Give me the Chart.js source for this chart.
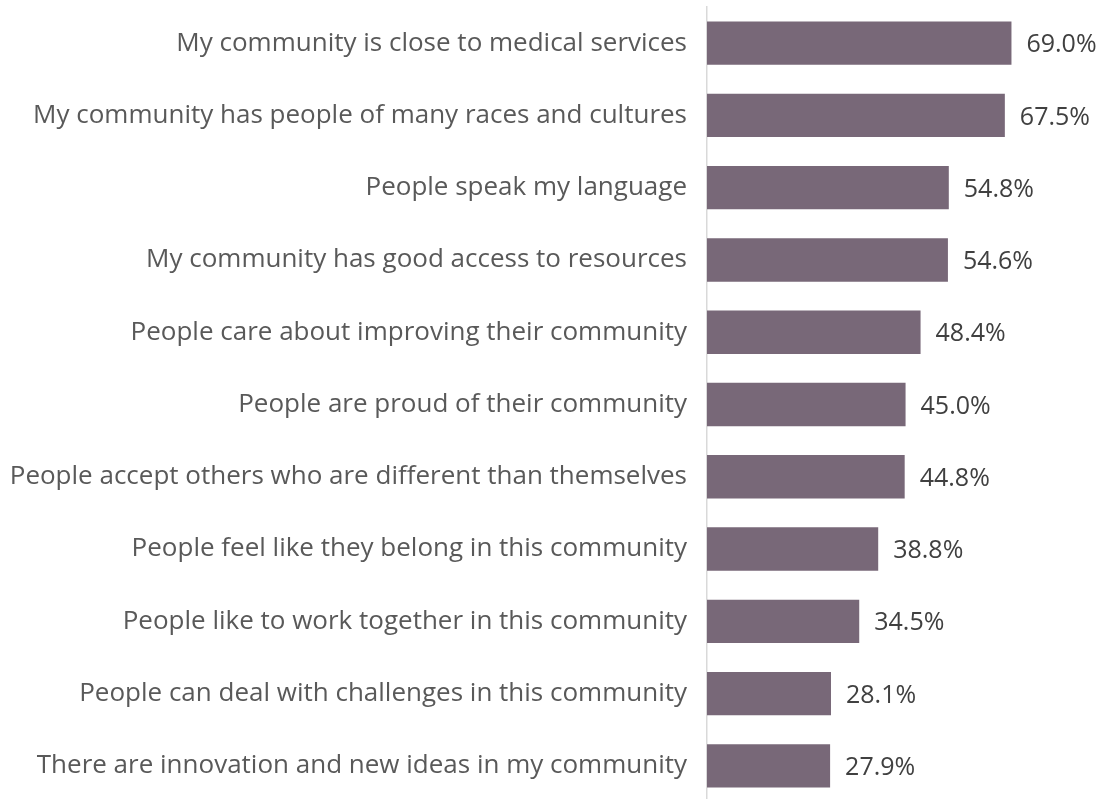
<!DOCTYPE html>
<html><head><meta charset="utf-8">
<script src="https://cdn.jsdelivr.net/npm/chart.js@4/dist/chart.umd.min.js"></script>
<style>html,body{margin:0;padding:0;overflow:hidden;background:#fff}#wrap{width:1104px;height:802px;position:relative}</style>
</head><body><div id="wrap"><canvas id="c"></canvas></div>
<script>
const categories = [
  "My community is close to medical services",
  "My community has people of many races and cultures",
  "People speak my language",
  "My community has good access to resources",
  "People care about improving their community",
  "People are proud of their community",
  "People accept others who are different than themselves",
  "People feel like they belong in this community",
  "People like to work together in this community",
  "People can deal with challenges in this community",
  "There are innovation and new ideas in my community"
];
const values = [69.0, 67.5, 54.8, 54.6, 48.4, 45.0, 44.8, 38.8, 34.5, 28.1, 27.9];

const labelPlugin = {
  id: 'vals',
  afterDatasetsDraw(chart) {
    const ctx = chart.ctx;
    const meta = chart.getDatasetMeta(0);
    ctx.save();
    ctx.font = '25px "Open Sans", sans-serif';
    ctx.fillStyle = '#404040';
    ctx.textAlign = 'left';
    ctx.textBaseline = 'middle';
    meta.data.forEach((bar, i) => {
      ctx.fillText(values[i].toFixed(1) + '%', bar.x + 15, bar.y + 2);
    });
    ctx.restore();
  }
};

new Chart(document.getElementById('c'), {
  type: 'bar',
  data: {
    labels: categories,
    datasets: [{
      data: values,
      backgroundColor: '#786878',
      borderWidth: 0,
      categoryPercentage: 0.6,
      barPercentage: 1.0
    }]
  },
  options: {
    indexAxis: 'y',
    responsive: true,
    maintainAspectRatio: false,
    animation: false,
    layout: { padding: { top: 7, right: 44, bottom: 0, left: 0 } },
    plugins: { legend: { display: false }, tooltip: { enabled: false } },
    scales: {
      x: { display: false, min: 0, max: 80 },
      y: {
        afterFit: s => { s.width = 707; s.paddingTop = 0; s.paddingBottom = 0; },
        grid: { display: false, drawTicks: false },
        border: { display: true, color: '#d9d9d9', width: 1.5 },
        ticks: {
          padding: 20,
          color: '#595959',
          font: { family: '"Open Sans", sans-serif', size: 26 }
        }
      }
    }
  },
  plugins: [labelPlugin]
});
</script></body></html>
